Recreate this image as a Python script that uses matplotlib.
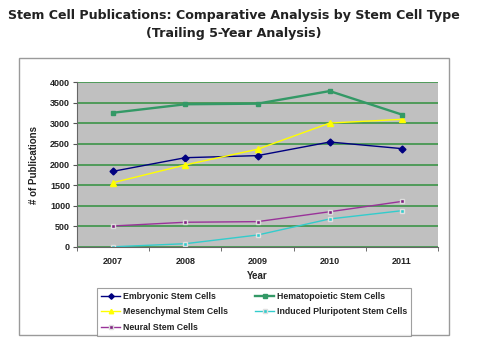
import numpy as np
import matplotlib
matplotlib.use('Agg')
import matplotlib.pyplot as plt
from matplotlib.patches import Rectangle

# data
years = ['2007', '2008', '2009', '2010', '2011']
embryonic = [1835, 2165, 2215, 2545, 2385]
hematopoietic = [3255, 3460, 3475, 3780, 3210]
mesenchymal = [1560, 1990, 2370, 3005, 3095]
ips = [5, 80, 290, 680, 880]
neural = [510, 600, 615, 855, 1105]

W, H = 480, 351
fig = plt.figure(figsize=(W / 100, H / 100), dpi=100)

def px(x0, y0, x1, y1):
    # pixel box -> figure fraction [left, bottom, width, height]
    return [x0 / W, 1 - y1 / H, (x1 - x0) / W, (y1 - y0) / H]

# outer chart-area frame
fig.patches.append(Rectangle((19 / W, 1 - 335 / H), 430 / W, 277 / H,
                             transform=fig.transFigure, fill=False,
                             edgecolor='#9a9a9a', linewidth=1.0))

fig.text(234 / W, 1 - 15 / H, 'Stem Cell Publications: Comparative Analysis by Stem Cell Type',
         ha='center', va='center', fontsize=9.1, fontweight='bold',
         family='DejaVu Sans', color='#222222')
fig.text(234 / W, 1 - 33 / H, '(Trailing 5-Year Analysis)',
         ha='center', va='center', fontsize=9.1, fontweight='bold',
         family='DejaVu Sans', color='#222222')

ax = fig.add_axes(px(77, 82, 438, 247))
ax.set_facecolor('#c0c0c0')
x = np.arange(len(years))

ax.plot(x, embryonic, color='#000080', marker='D', markersize=3.5, linewidth=1.0,
        label='Embryonic Stem Cells')
ax.plot(x, mesenchymal, color='#ffff00', marker='^', markersize=4, linewidth=1.0,
        label='Mesenchymal Stem Cells')
ax.plot(x, neural, color='#993399', marker='s', markersize=3.5, linewidth=1.0,
        markeredgecolor='#dddddd', markerfacecolor='#802080',
        label='Neural Stem Cells')
ax.plot(x, hematopoietic, color='#339966', marker='s', markersize=3.5, linewidth=1.7,
        label='Hematopoietic Stem Cells')
ax.plot(x, ips, color='#33cccc', marker='s', markersize=3.5, linewidth=1.0,
        markeredgecolor='#e0e0e0', markerfacecolor='#33cccc',
        label='Induced Pluripotent Stem Cells')

ax.set_xlim(-0.5, len(years) - 0.5)
ax.set_ylim(0, 4000)
ax.set_yticks(np.arange(0, 4001, 500))
ax.yaxis.grid(True, color='#4f9a5a', linewidth=1.4)
ax.set_axisbelow(True)
ax.set_xticks(x)
ax.set_xticklabels(years)
ax.set_xticks(np.arange(-0.5, len(years), 1), minor=True)
ax.tick_params(axis='x', which='major', length=0, pad=7)
ax.tick_params(axis='x', which='minor', length=3, direction='out', color='#555555')
ax.tick_params(axis='y', length=3, direction='out', color='#555555', pad=2)
for lab in ax.get_xticklabels() + ax.get_yticklabels():
    lab.set_fontsize(6.5)
    lab.set_fontweight('bold')
    lab.set_family('Liberation Sans')
    lab.set_color('#222222')

for side in ['top', 'right']:
    ax.spines[side].set_visible(False)
ax.spines['left'].set_color('#666666')
ax.spines['bottom'].set_color('#666666')

ax.set_xlabel('Year', fontsize=7, fontweight='bold', family='Liberation Sans',
              color='#222222', labelpad=4)
ax.set_ylabel('# of Publications', fontsize=7, fontweight='bold',
              family='Liberation Sans', color='#222222', labelpad=8)

handles, labels = ax.get_legend_handles_labels()
leg = fig.legend(handles, labels, ncol=2, loc='upper left', mode='expand',
                 bbox_to_anchor=(97 / W, 1 - 336 / H, 314 / W, 48 / H),
                 borderaxespad=0,
                 prop={'family': 'Liberation Sans', 'weight': 'bold', 'size': 6.3},
                 frameon=True, fancybox=False, handlelength=2.2,
                 handletextpad=0.3, columnspacing=1.0, labelspacing=0.75,
                 borderpad=0.45, markerscale=0.8)
leg.get_frame().set_edgecolor('#888888')
leg.get_frame().set_linewidth(0.8)
for t in leg.get_texts():
    t.set_color('#222222')

fig.savefig('out.png', dpi=100, facecolor='white')
